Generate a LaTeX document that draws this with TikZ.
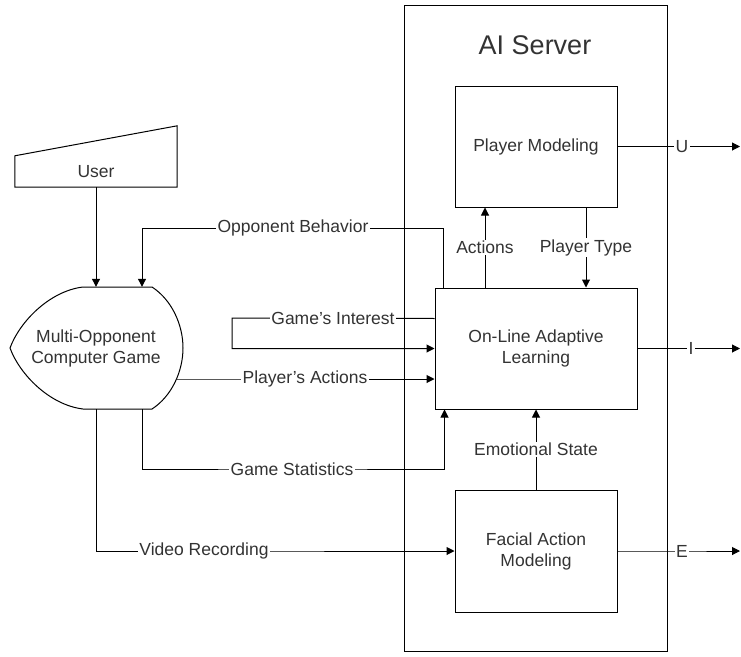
\documentclass[tikz,border=0pt]{standalone}
\usepackage{fontspec}
\setmainfont{Liberation Sans}
\usetikzlibrary{arrows.meta}

\tikzstyle{myBox} = [draw=black, line width=1pt, rectangle,
    align=center, inner sep=0pt]
\tikzstyle{myHidden} = [rectangle, align=center, inner sep=0pt]
\tikzstyle{myLabel} = [fill=white, inner sep=1.5pt, text=black!80]
\tikzstyle{myArrow} = [line width=1pt, -{Triangle[length=8pt,width=8pt]}]
\tikzstyle{myLine} = [line width=1pt]

\begin{document}
\begin{tikzpicture}[x=1pt, y=-1pt, font=\fontsize{17.5}{21}\selectfont]
\useasboundingbox (0,0) rectangle (741,656);

\draw[myLine] (404,5) rectangle (667,651);
\node[text=black!80, font=\fontsize{27}{32}\selectfont] (Server) at (535,45) [] {AI Server};

\node[myBox, minimum width=162pt, minimum height=121pt, text=black!80] (PlayerModeling) at (536,146.5) [] {Player Modeling};
\node[myBox, minimum width=202pt, minimum height=121pt, text=black!80] (Learning) at (536,348.5) [] {On-Line Adaptive\\Learning};
\node[myBox, minimum width=162pt, minimum height=122pt, text=black!80] (Facial) at (536,551) [] {Facial Action\\Modeling};

\node[myHidden, minimum width=162pt, minimum height=31pt, text=black!80] (User) at (96,171.5) [] {User};
\draw[myLine] (User.south west) -- (User.north west) -- ([yshift=30pt]User.north east) -- (User.south east) -- cycle;

\node[myHidden, minimum width=173pt, minimum height=122pt, text=black!80] (Game) at (96,348) [] {Multi-Opponent\\Computer Game};
\draw[myLine] (83,287) -- (152,287) .. controls (172,300) and (183,325) .. (183,348)
  .. controls (183,371) and (172,396) .. (152,409) -- (83,409)
  .. controls (50,405) and (20,375) .. (10,348)
  .. controls (20,321) and (50,291) .. (83,287);

\coordinate (OutU) at (740,146.5);
\coordinate (OutI) at (740,348.5);
\coordinate (OutE) at (740,551);

% game side
\draw[myArrow] (User.south) -- (Game.north);
\draw[myArrow] ([xshift=9pt]Learning.north west) |- (293,228) node[myLabel] {Opponent Behavior} -| ([xshift=46pt]Game.north);
\draw[myArrow] ([yshift=30pt]Learning.west) -- (333,318) node[myLabel] {Game's Interest} -- (232,318) |- (Learning.west);
\draw[myArrow] ([xshift=-5.5pt,yshift=-31pt]Game.east) -- (305,379) node[myLabel] {Player's Actions} -- ([yshift=-30.5pt]Learning.west);
\draw[myArrow] ([xshift=46pt]Game.south) |- (292,469) node[myLabel] {Game Statistics} -| ([xshift=10pt]Learning.south west);
\draw[myArrow] (Game.south) |- (204,551) node[myLabel] {Video Recording} -- (Facial.west);

% server side
\draw[myArrow] ([xshift=-51pt]Learning.north) -- node[myLabel] {Actions} ([xshift=-51pt]PlayerModeling.south);
\draw[myArrow] ([xshift=50pt]PlayerModeling.south) -- node[myLabel] {Player Type} ([xshift=50pt]Learning.north);
\draw[myArrow] (Facial.north) -- node[myLabel] {Emotional State} (Learning.south);

\draw[myArrow] (PlayerModeling.east) -- (682,146.5) node[myLabel] {U} -- (OutU);
\draw[myArrow] (Learning.east) -- (691,348.5) node[myLabel] {I} -- (OutI);
\draw[myArrow] (Facial.east) -- (682,551) node[myLabel] {E} -- (OutE);
\end{tikzpicture}
\end{document}
